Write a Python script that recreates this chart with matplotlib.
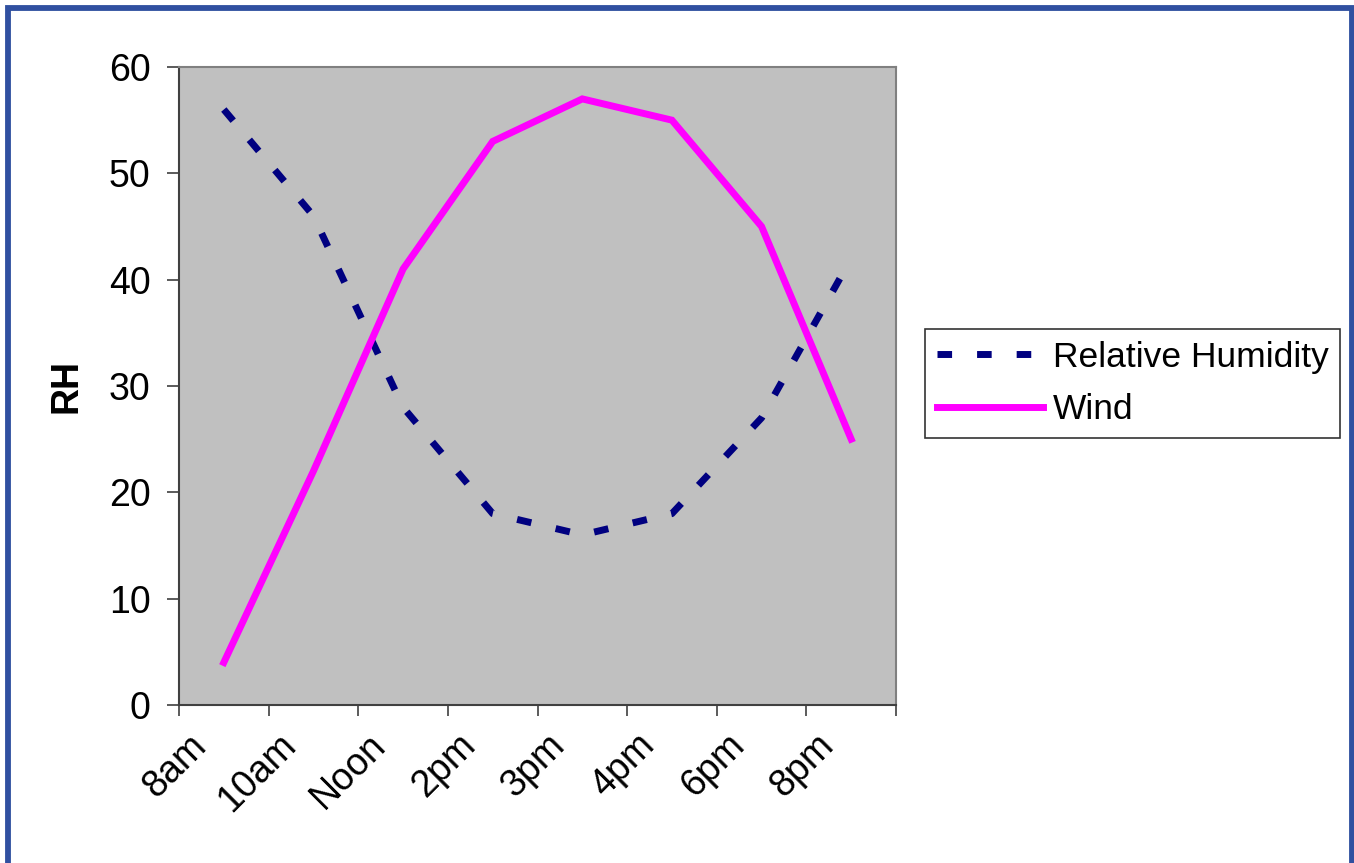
import matplotlib
matplotlib.use("Agg")
import matplotlib.pyplot as plt
import matplotlib.transforms as mtransforms
from matplotlib.patches import Rectangle
import numpy as np

# Hourly readings
times = ["8am", "10am", "Noon", "2pm", "3pm", "4pm", "6pm", "8pm"]
rel_humidity = [56, 46, 28, 18, 16, 18, 27, 42]
wind = [4, 22, 41, 53, 57, 55, 45, 25]

plt.rcParams['font.family'] = ['Liberation Sans', 'DejaVu Sans']

fig = plt.figure(figsize=(13.54, 8.63), dpi=100)
ax = fig.add_axes([179 / 1354, 1 - 705 / 863, 717 / 1354, 638 / 863])

# Categories sit in the middle of each slot
x = np.arange(len(times)) + 0.5

ax.plot(x, rel_humidity, color='#000080', lw=5, linestyle=(0, (2.1, 3.6)),
        dash_capstyle='butt', solid_joinstyle='miter', label='Relative Humidity')
ax.plot(x, wind, color='#FF00FF', lw=5, solid_joinstyle='miter', label='Wind')

ax.set_facecolor('#C0C0C0')
ax.set_xlim(0, len(times))
ax.set_ylim(0, 60)
ax.set_yticks(range(0, 61, 10))

for side in ['top', 'right', 'left', 'bottom']:
    ax.spines[side].set_color('#808080')
    ax.spines[side].set_linewidth(1.5)
ax.spines['left'].set_color('#404040')
ax.spines['bottom'].set_color('#404040')

# Boundary ticks on the major locator, labels on the minor one
ax.set_xticks(np.arange(0, len(times) + 1))
ax.set_xticklabels([])
ax.set_xticks(x, minor=True)
ax.set_xticklabels(times, minor=True, rotation=45, ha='right', va='top', fontsize=27)
ax.tick_params(axis='x', which='major', direction='out', length=8, width=1.2, color='#404040')
ax.tick_params(axis='x', which='minor', length=0, pad=16)
ax.tick_params(axis='y', direction='out', length=8.5, width=1.2, color='#404040',
               labelsize=27, pad=12)

shift = mtransforms.ScaledTranslation(-10 / 100, 0, fig.dpi_scale_trans)
for lbl in ax.get_xticklabels(minor=True):
    lbl.set_transform(lbl.get_transform() + shift)

ax.set_ylabel('RH', fontsize=27, fontweight='bold')
ax.yaxis.set_label_coords(-0.132, 0.5)

leg = ax.legend(loc='upper left', bbox_to_anchor=(925 / 1354, 1 - 329 / 863),
                bbox_transform=fig.transFigure, fontsize=25.5, frameon=True,
                fancybox=False, edgecolor='black', handlelength=3.0,
                handletextpad=0.28, borderpad=0.33, labelspacing=0.55,
                borderaxespad=0)
leg.get_frame().set_linewidth(1.2)

# Blue frame around the whole figure
fig.patches.append(Rectangle((8 / 1354, -0.05), (1351.5 - 8) / 1354, 1.05 - 8 / 863,
                             transform=fig.transFigure, fill=False,
                             edgecolor='#3050A0', lw=4.2, zorder=10))

fig.savefig('out.png', dpi=100)
